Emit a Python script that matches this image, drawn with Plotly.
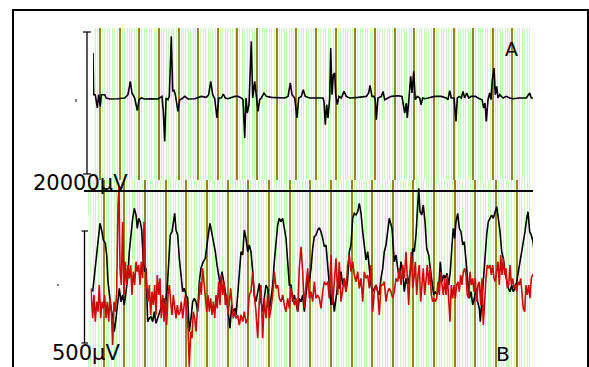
import plotly.graph_objects as go

W, H = 589, 367

# ---------------- Panel A (top trace) ----------------
a_t = [0, 0.7, 2.3, 4.3, 5.7, 7.3, 8.3, 11.7, 13.3, 16.7, 25, 31.7, 35, 37.3, 39, 41.7, 44.3, 46, 48.3, 51.7,
       58.3, 65, 69, 70.3, 71.7, 73, 75, 76.3, 78.3, 79.7, 81, 82.3, 85, 86.7, 89, 91.7, 95, 101.7, 108.3, 113.3,
       115.7, 117.7, 119.7, 121.7, 124, 125.7, 128.3, 130.3, 132.3, 135, 141.7,
       145, 148.3, 150, 151.7, 153, 154.3, 156, 158.3, 159.7, 161.7, 163.3, 165, 166.7, 168.3, 171, 173.3, 178.3,
       185, 191.7, 195, 197.3, 199, 201.7, 204, 205.7, 208.3, 210.3, 212.3, 216.7, 225, 230, 231, 232.3, 233.7,
       235, 236.7, 237.7, 239, 240.3, 241.7, 242.7, 244.3, 246, 248.3, 251, 253.3, 256.7, 265, 273.3, 275.7, 277,
       279, 281, 282.3, 283.3, 285, 288.3, 290, 291.7, 295,
       298.3, 305, 309, 310.3, 311.7, 313.3, 314.3, 316, 317.7, 319, 320.7, 322.3, 324.3, 326.7, 328, 329.7, 331.7,
       335, 341.7, 348.3, 353.3, 355, 356.7, 358.3, 361, 363, 364.3, 366.3, 368.3, 370, 371.7, 373.7, 375.7, 378.3,
       382.3, 385, 389, 390.7, 392, 393.3, 395, 396.7, 398, 399.3, 401, 402.3, 403.7, 405, 406.7, 410, 413.3, 416.7,
       420, 426.7, 433.3, 436.7, 438.3, 440.7, 441.7]
a_v = [45.7, 4, 4, -9.3, 4, -7.7, 4, 4, 0.7, -0.3, 0, 0.7, 4, 17.3, 5.7, 0.7, -12, -1, 0.7, -0.3,
       0, -0.3, 2.3, -12.7, -42.7, 0.7, -1, 2.3, 62.3, 7.3, 9, 4, -12.7, -1, 0, 2.3, -0.3, 0, 2.3, 1.3,
       4, 17.3, 4, 0, -19.3, 0.7, 0.7, 4.7, 0.7, 0, 2.3,
       2.3, 0.7, -1, -39.3, 0.7, -14.3, -6, 57.3, 0.7, 17.3, -1, -12.7, -1, 0.7, 5.7, 2.3, 1.3,
       0.7, 0.7, 2.3, 15.7, 4, 0.7, -19.3, 0.7, 2.3, 9, 2.3, 0.7, 0.7, 0.7, -2.7, -26, -6,
       -19.3, 0.7, 50.7, 4, 24, 25.7, 4, -6, 2.3, 0.7, 7.3, 2.3, 0.7, 1.3, 2.3, 5.7, 13.3,
       2.3, 2.3, -1, -21, 0.7, 2.3, 7.3, -1, 0.7,
       2.3, 3, 2.3, -6, -14.3, -4.3, -19.3, 0.7, 22.3, 5.7, 27.3, -1, 2.3, 0.7, -6, 0.7, 0,
       0.7, 2.3, 2.3, 0.7, -1, 8, 0.7, 0.7, -22.7, 0.7, 2.3, 0.7, 7.3, 0.7, 5.7, 0.7, 2.3,
       2.3, 0.7, -1, -9.3, -4.3, -22.7, -1, 5.7, -1, 19, 30.7, 4, 12.3, 0.7, 4, 0.7, 2.3, 0.7,
       0, 0.7, 0.7, 5.7, 0.7, 0.7, -11]

# ---------------- Panel B (bottom traces) ----------------
b_black_t = [6.7, 9.3, 11.7, 14, 16, 17.3, 19.3, 20.7, 22, 23.3, 25, 26.7, 28.3, 30, 31.7, 33.3, 35, 36.7, 38.3, 40,
             41.7, 43.3, 45, 46.7, 48.3, 50, 51.3, 52.7, 54.3, 55.7, 57.3, 58.7, 60, 61.7, 63.3, 65, 66.7, 68.3, 70,
             71.7, 73.3, 76, 78, 79.3, 81, 82.7, 84.3, 86, 87.7, 88.7, 90, 91.7, 93.3, 95, 96.7, 98.3, 100, 101.7,
             103.3, 105, 106.7, 108.3, 110, 111.7, 113.3, 115, 117.3, 119.3, 121, 122.7, 124, 125.7, 127.7, 129.3,
             131, 132.7, 134.3, 136, 137.3, 139.3, 141, 142.7, 144, 145.7, 147.3, 149.3,
             150, 151.7, 153.3, 155, 156.7, 158.3, 160, 161.7, 163.3, 165, 166.7, 168.3, 170, 171.7, 173.3, 175,
             176.7, 178.3, 180, 181.7, 183.3, 185, 186.7, 188.3, 190, 191.7, 193.3, 195, 196.7, 198.3, 200, 201.7,
             203.3, 205, 206.7, 208.3, 210, 211.7, 213.3, 215, 216.7, 218.3, 220, 221.7, 223.3, 225, 226.7, 228.3,
             230, 231.7, 233.3, 235, 236.7, 238.3, 240, 241.7, 243.3, 245, 246.7, 248.3, 250, 251.7, 253.3, 255,
             256.7, 258.3, 260, 261.7, 263.3, 265, 266.7, 268.3, 270, 271.7, 273.3, 275, 276.7, 278.3, 280, 281.7,
             283.3, 285, 286.7, 288.3, 290, 291.7, 293.3, 295, 296.7, 298.3,
             300, 303.3, 306, 308.3, 310, 311.7, 313.3, 315, 316.7, 318.3, 320, 321.7, 323.3, 325, 326.7, 328.3,
             330, 331.7, 332.7, 334, 335.7, 337.3, 339, 340.7, 342.7, 344.3, 346, 347.7, 349.3, 351, 352.7, 354.3,
             356, 357.7, 359.3, 361, 362.7, 364.3, 366, 367.3, 368.7, 370, 371.7, 373.3, 375, 376.7, 378.3, 380,
             381.7, 383.3, 385, 386.7, 388.3, 390, 391.7, 393.3, 394.3, 396, 397.3, 399, 400.7, 402.3, 404, 405.7,
             407.3, 409, 410.7, 412.3, 414, 415.7, 417.3, 419, 420.7, 422.3, 424, 425.7, 427.3, 429, 430.7, 432.3,
             434, 435.7, 437.3, 439, 440.7, 442, 443.7, 445.3, 447, 448.7]
b_black_v = [8.3, 31.7, 58.3, 76.7, 68.3, 60, 56.7, 45, 18.3, 5, -8.3, -16.7, -31.7, -18.3, 1.7, 11.7, -1.7, 5, -5, 8.3,
             21.7, 48.3, 68.3, 81.7, 91.7, 85, 71.7, 81.7, 78.3, 70, 38.3, 28.3, 31.7, -21.7, -18.3, -16.7, -21.7, -11.7, -23.3,
             -18.3, -15, -5, 1.7, -5, 8.3, 38.3, 65, 68.3, 78.3, 86.7, 70, 65, 41.7, 21.7, 8.3, 11.7, 5, 1.7,
             -31.7, -18.3, -1.7, 1.7, -1.7, -11.7, 18.3, 31.7, 38.3, 41.7, 58.3, 68.3, 76.7, 68.3, 55, 48.3,
             35, 21.7, 15, 28.3, 18.3, 8.3, -1.7, -15, -28.3, -5, -11.7, -8.3,
             -15, 5, 28.3, 48.3, 45, 70, 61.7, 48.3, 55, 48.3, 28.3, 5, -1.7, 8.3, 16.7, -1.7,
             -11.7, 1.7, 15, 11.7, -11.7, 1.7, 15, 38.3, 55, 75, 81.7, 78.3, 81.7, 71.7, 61.7, 38.3,
             15, 15, -1.7, 5, -5, -11.7, 1.7, -1.7, 5, -11.7, 5, 21.7, 18.3, 31.7, 51.7, 63.3,
             65, 70, 72.3, 68.3, 61.7, 53.3, 55, 35, 15, -5, 8.3, -11.7, 1.7, 15, 11.7, 28.3,
             15, 21.7, 8.3, 21.7, 48.3, 55, 81.7, 86.7, 85, 88.3, 96.7, 86.7, 68.3, 51.7, 40, 48.3,
             35, 15, 8.3, 11.7, 15, 8.3, 5, 21.7, 31.7, 48.3,
             55, 81.7, 71.7, 38.3, 45, 31.7, 21.7, 38.3, 28.3, 8.3, 21.7, 15, 25, 31.7, 51.7, 48.3,
             65, 95, 111.7, 88.3, 85, 95, 78.3, 51.7, 45, 31.7, 18.3, 5, 8.3, 5, 11.7, 38.3,
             18.3, 25, 21.7, 26.7, 15, 28.3, 55, 71.7, 61.7, 78.3, 86.7, 71.7, 68.3, 55, 58.3, 38.3,
             25, 1.7, 8.3, -5, 1.7, 11.7, -1.7, -8.3, -21.7, 5, 15, 41.7, 65, 78.3, 81.7, 85,
             81.7, 88.3, 93.3, 81.7, 68.3, 48.3, 41.7, 28.3, 18.3, 11.7, 8.3, 15, 8.3, 11.7, 18.3, 28.3,
             38.3, 48.3, 55, 68.3, 81.7, 88.3, 68.3, 65, 58.3, 43.3]

b_red_t = [5, 6.7, 8, 9.3, 10.7, 12, 13.3, 14.7, 16, 17.3, 18.7, 20, 21.3, 22.7, 24, 25.3, 26.7, 28, 29.3, 30.7,
           32, 33, 34, 35.3, 36.7, 38, 39.3, 40.7, 42, 43.3, 44.7, 46, 47.3, 48.7, 50, 51.3, 52.7, 54, 55.3, 56.7,
           58, 59.3, 60.7, 62, 63.3, 64.7, 66, 67.3, 68.7, 70, 71.3, 72.7, 74, 75.3, 76.7, 78, 79.3, 80.7, 82, 83.3,
           84.7, 86, 87.3, 88.7, 90, 91.3, 92.7, 94, 95.3, 96.7, 98, 99.3, 100.7, 102, 103.3, 104.7, 106, 107.3,
           108.7, 110, 111.3, 112.7, 114, 115.3, 116.7, 118, 119.3, 120.7, 122, 123.3, 124.7, 126, 127.3, 128.7,
           130, 131.3, 132.7, 134, 135.3, 136.7, 138, 139.3, 140.7, 142, 143.3, 144.7, 146, 147.3, 148.7,
           150, 151.7, 153.3, 155, 156.7, 158.3, 160, 161.7, 163.3, 165, 166.7, 168.3, 170, 171.7, 173.3, 175,
           176.7, 178.3, 180, 181.7, 183.3, 185, 186.7, 188.3, 190, 191.7, 193.3, 195, 196.7, 198.3, 200, 201.7,
           203.3, 205, 206.7, 208.3, 210, 211.7, 213.3, 215, 216.7, 218.3, 220, 221.7, 223.3, 225, 226.7, 228.3,
           230, 231.7, 233.3, 235, 236.7, 238.3, 240, 241.7, 243.3, 245, 246.7, 248.3, 250, 251.7, 253.3, 255,
           256.7, 258.3, 260, 261.7, 263.3, 265, 266.7, 268.3, 270, 271.7, 273.3, 275, 276.7, 278.3, 280, 281.7,
           283.3, 285, 286.7, 288.3, 290, 291.7, 293.3, 295, 296.7, 298.3,
           300, 301.7, 303.3, 305, 306.7, 308.3, 310, 311.7, 313.3, 315, 316.7, 318.3, 320, 321.7, 322.7, 324,
           325.3, 326.7, 328, 329.3, 330.7, 332, 333.3, 334.7, 336, 337.3, 338.7, 340, 341.3, 342.7, 344, 345.3,
           346.7, 348, 349.3, 350.7, 352, 353.3, 354.7, 356, 357.3, 358.7, 360, 361.3, 362.7, 364, 365.3, 366.7,
           368, 369.3, 370.7, 372, 373.3, 374.7, 376, 377.3, 378.7, 380, 381.3, 382.7, 384, 385.3, 386.7, 388,
           389.3, 390.7, 392, 393.3, 394.7, 396, 397.3, 398.7, 400, 401.3, 402.7, 404, 405.3, 406.7, 408, 409.3,
           410.7, 412, 413.3, 414.7, 416, 417.3, 418.7, 420, 421.3, 422.7, 424, 425.3, 426.7, 428, 429.3, 430.7,
           432, 433.3, 434.7, 436, 437.3, 438.7, 440, 441.3, 442.7, 444, 445.3, 446.7, 448]
b_red_v = [11.7, -18.3, 5, -21.7, -1.7, -11.7, 15, -18.3, -1.7, -8.3, 5, -18.3, -1.7, -21.7, 1.7, -11.7, -45, -1.7, -11.7, 8.3,
           95, 113.3, 31.7, 15, 78.3, 5, 38.3, 15, 35, 21.7, 35, 5, 28.3, 15, 38.3, 28.3, 35, 15, 38.3, 21.7,
           78.3, 35, 15, -1.7, 15, -15, 8.3, -5, 15, -15, 25, 5, 21.7, -18.3, 5, -21.7, 1.7, -25, 5, 15,
           -1.7, -15, 5, -11.7, -18.3, -5, -15, -11.7, -1.7, -18.3, -5, 5, -11.7, -28.3, -66.7, -31.7, -38.3, -11.7,
           -18.3, -31.7, -11.7, -1.7, 18.3, 5, 31.7, 15, 1.7, -11.7, 5, -11.7, 1.7, -15, -1.7, -18.3,
           5, -8.3, 18.3, -5, 25, 5, 18.3, -5, 5, -15, -1.7, 11.7, -5, -18.3, -11.7,
           -18.3, -15, -25, -15, -21.7, -11.7, -23.3, -18.3, 5, 8.3, 28.3, 5, -11.7, -38.3, -1.7, 15,
           -38.3, 1.7, -18.3, 5, -18.3, -8.3, 5, 28.3, 11.7, 15, 1.7, -1.7, 5, -5, -11.7, 1.7,
           -8.3, 11.7, 1.7, -5, 1.7, -11.7, 31.7, 53.3, 28.3, -8.3, 15, 31.7, 1.7, 8.3, -1.7, 18.3,
           1.7, 5, 1.7, -8.3, 8.3, 18.3, 15, 18.3, 1.7, 45, -5, 15, 41.7, 5, 38.3, -1.7,
           11.7, 21.7, 8.3, 35, 45, 28.3, 38.3, 25, 18.3, 28.3, 11.7, 21.7, -1.7, 28.3, 21.7, 25,
           11.7, 35, -11.7, 8.3, 15, 8.3, -15, 15, 15, 18.3,
           -1.7, 8.3, 11.7, 8.3, 1.7, 8.3, 21.7, 18.3, 31.7, 15, 35, 21.7, 48.3, 15, -5, 28.3,
           48.3, 11.7, 21.7, 38.3, 5, 25, 35, -1.7, 15, 31.7, 5, 21.7, 35, 15, 31.7, 5,
           -1.7, 1.7, -1.7, 1.7, 18.3, 5, 28.3, 15, 5, 21.7, 5, 25, -1.7, -21.7, 15, 1.7,
           15, 1.7, 15, 18.3, 8.3, 25, 15, 28.3, 31.7, 25, 5, 1.7, 28.3, 15, 21.7, 8.3,
           21.7, -1.7, 15, 18.3, -5, 21.7, -25, 8.3, 21.7, 35, 31.7, 35, 25, 35, 21.7, 18.3,
           31.7, 38.3, 15, 45, 25, 41.7, 25, 31.7, 11.7, 15, 35, 15, 21.7, 11.7, 15, 8.3,
           18.3, 15, 21.7, 8.3, -8.3, -11.7, 15, 5, 15, 1.7, 21.7, 25, 26.7]

# Axis / annotation texts
scale_top_text = "20000µV"
scale_bottom_text = "500µV"
panel_labels = ["A", "B"]

OLIVE = "#928424"
LIGHT_GREEN = "#c8f7c0"
RED = "#cc0a0a"


def px(x):
    return x / W


def py(y):
    return 1 - y / H


fig = go.Figure()
fig.add_trace(go.Scatter(x=a_t, y=a_v, mode="lines", line=dict(color="black", width=1.6),
                         xaxis="x", yaxis="y", showlegend=False))
fig.add_trace(go.Scatter(x=b_black_t, y=b_black_v, mode="lines", line=dict(color="black", width=1.6),
                         xaxis="x2", yaxis="y2", showlegend=False))
fig.add_trace(go.Scatter(x=b_red_t, y=b_red_v, mode="lines", line=dict(color=RED, width=1.6),
                         xaxis="x2", yaxis="y2", showlegend=False))

common_y = dict(showgrid=False, zeroline=False, showticklabels=False, ticks="", showline=False)

fig.update_layout(
    width=W, height=H,
    margin=dict(l=0, r=0, t=0, b=0),
    paper_bgcolor="white", plot_bgcolor="white",
    xaxis=dict(domain=[px(93), px(533)], range=[0, 440], anchor="y",
               showgrid=True, gridcolor=OLIVE, gridwidth=1.6, tick0=7, dtick=19.64,
               minor=dict(showgrid=True, gridcolor=LIGHT_GREEN, gridwidth=1.2, tick0=7, dtick=19.64 / 8),
               zeroline=False, showticklabels=False, ticks="", showline=False),
    yaxis=dict(domain=[py(180), py(28)], range=[-81.3, 70.7], anchor="x", **common_y),
    xaxis2=dict(domain=[px(86), px(533)], range=[0, 447], anchor="y2",
                showgrid=True, gridcolor=OLIVE, gridwidth=1.6, tick0=17.7, dtick=20.65,
                minor=dict(showgrid=True, gridcolor=LIGHT_GREEN, gridwidth=1.2, tick0=17.7, dtick=20.65 / 8),
                zeroline=False, showticklabels=False, ticks="", showline=False),
    yaxis2=dict(domain=[0, py(180)], range=[-67, 120], anchor="x2", **common_y),
)

shapes = []
# outer frame
shapes.append(dict(type="rect", xref="paper", yref="paper", x0=px(13), x1=px(588), y0=-0.2, y1=py(10),
                   line=dict(color="black", width=2), layer="above"))
# white area left of bottom traces
shapes.append(dict(type="rect", xref="paper", yref="paper", x0=px(80), x1=px(90.5), y0=py(345), y1=py(214),
                   fillcolor="white", line=dict(width=0), layer="above"))
# top scale bar (20000 µV)
shapes.append(dict(type="line", xref="paper", yref="y", x0=px(87), x1=px(87), y0=-75.3, y1=66.7,
                   line=dict(color="black", width=1.3)))
for yv in (-75.3, 66.7):
    shapes.append(dict(type="line", xref="paper", yref="y", x0=px(83), x1=px(91), y0=yv, y1=yv,
                       line=dict(color="black", width=1.2)))
# bottom scale bar (500 µV)
shapes.append(dict(type="line", xref="paper", yref="y2", x0=px(84.5), x1=px(84.5), y0=-43, y1=69,
                   line=dict(color="black", width=1.3), layer="above"))
for yv in (-43, 69):
    shapes.append(dict(type="line", xref="paper", yref="y2", x0=px(81.5), x1=px(88), y0=yv, y1=yv,
                       line=dict(color="black", width=1.2), layer="above"))
# horizontal reference line in panel B
shapes.append(dict(type="line", xref="paper", yref="y2", x0=px(84), x1=px(533), y0=109, y1=109,
                   line=dict(color="black", width=2), layer="above"))
# tiny marks on the left
shapes.append(dict(type="line", xref="paper", yref="paper", x0=px(76), x1=px(76), y0=py(99), y1=py(102),
                   line=dict(color="black", width=1)))
shapes.append(dict(type="line", xref="paper", yref="paper", x0=px(58), x1=px(58), y0=py(284), y1=py(286),
                   line=dict(color="black", width=1)))
fig.update_layout(shapes=shapes)

font_main = dict(family="DejaVu Sans", color="black")
fig.add_annotation(x=px(80.5), y=py(183), xref="paper", yref="paper", text=scale_top_text, showarrow=False,
                   xanchor="center", yanchor="middle", font=dict(size=21, **font_main))
fig.add_annotation(x=px(86), y=py(353), xref="paper", yref="paper", text=scale_bottom_text, showarrow=False,
                   xanchor="center", yanchor="middle", font=dict(size=21, **font_main))
fig.add_annotation(x=px(511.5), y=py(49.5), xref="paper", yref="paper", text=panel_labels[0], showarrow=False,
                   xanchor="center", yanchor="middle", font=dict(size=19, **font_main))
fig.add_annotation(x=px(503), y=py(354), xref="paper", yref="paper", text=panel_labels[1], showarrow=False,
                   xanchor="center", yanchor="middle", font=dict(size=20, **font_main))

fig.write_html("out.html")
